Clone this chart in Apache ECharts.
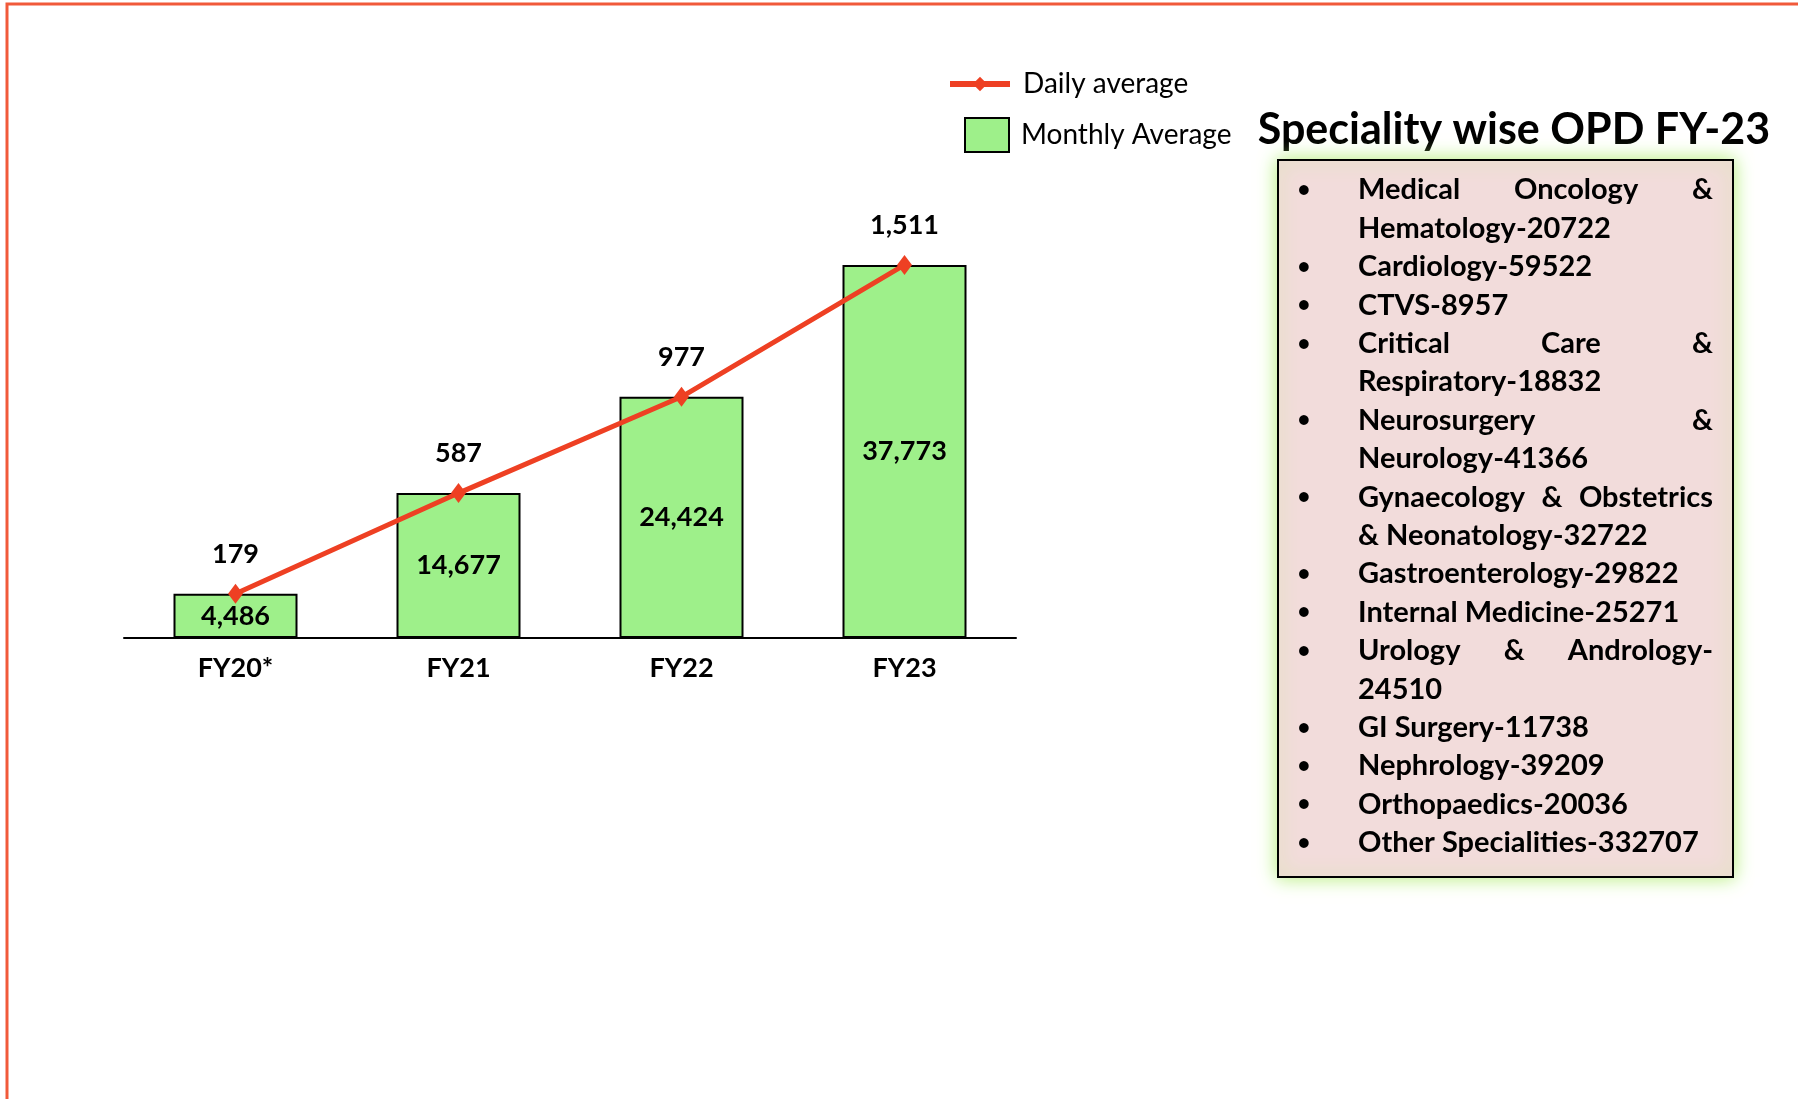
<!DOCTYPE html>
<html>
<head>
<meta charset="utf-8">
<script src="https://cdn.jsdelivr.net/npm/echarts@6/dist/echarts.min.js"></script>
<style>
  html, body { margin: 0; padding: 0; background: #fff; }
  #chart { width: 1798px; height: 1099px; }
</style>
</head>
<body>
<div id="chart"></div>
<script>
// data
const categories = ['FY20*', 'FY21', 'FY22', 'FY23'];
const monthlyAverage = [4486, 14677, 24424, 37773];
const dailyAverage = [179, 587, 977, 1511];

const specialityNames = [
    'Medical Oncology & Hematology',
    'Cardiology',
    'CTVS',
    'Critical Care & Respiratory',
    'Neurosurgery & Neurology',
    'Gynaecology & Obstetrics & Neonatology',
    'Gastroenterology',
    'Internal Medicine',
    'Urology & Andrology',
    'GI Surgery',
    'Nephrology',
    'Orthopaedics',
    'Other Specialities'
];
const specialityCounts = [20722, 59522, 8957, 18832, 41366, 32722, 29822, 25271, 24510, 11738, 39209, 20036, 332707];

const fmt = v => v.toLocaleString('en-US');

// text box layout
const boxFont = 'bold 29px Lato';
const textLeft = 1358, textWidth = 355, bulletX = 1304;
const hyphenWidth = 300; // a line broken after a hyphen must be shorter than this
const firstLineY = 190, lineStep = 38.4;

let ctx = document.createElement('canvas').getContext('2d');
ctx.font = boxFont;
const measure = s => ctx.measureText(s).width;

// wrap one entry into lines (break at spaces, or after a hyphen if needed)
function wrapEntry(text) {
    let words = text.split(' ');
    let lines = [];
    let cur = [];
    for (let i = 0; i < words.length; i++) {
        let w = words[i];
        let trial = cur.concat([w]).join(' ');
        if (measure(trial) <= textWidth || cur.length == 0) {
            cur.push(w);
            continue;
        }
        let hy = w.indexOf('-');
        if (hy > 0) {
            let head = w.slice(0, hy + 1);
            if (measure(cur.concat([head]).join(' ')) <= hyphenWidth) {
                cur.push(head);
                lines.push(cur);
                cur = [w.slice(hy + 1)];
                continue;
            }
        }
        lines.push(cur);
        cur = [w];
    }
    if (cur.length) lines.push(cur);
    return lines;
}

let boxElements = [];
let lineNo = 0;
for (let k = 0; k < specialityNames.length; k++) {
    let lines = wrapEntry(specialityNames[k] + '-' + specialityCounts[k]);
    for (let j = 0; j < lines.length; j++) {
        let y = firstLineY + lineNo * lineStep;
        if (j == 0) {
            boxElements.push({
                type: 'text', x: bulletX, y: y, z: 10,
                style: { text: '•', font: 'bold 22px Lato', fill: '#000', align: 'center', verticalAlign: 'middle' }
            });
        }
        let words = lines[j];
        let justify = j < lines.length - 1 && words.length > 1;
        if (!justify) {
            boxElements.push({
                type: 'text', x: textLeft, y: y, z: 10,
                style: { text: words.join(' '), font: boxFont, fill: '#000', align: 'left', verticalAlign: 'middle' }
            });
        } else {
            let widths = words.map(measure);
            let gap = (textWidth - widths.reduce((a, b) => a + b, 0)) / (words.length - 1);
            let x = textLeft;
            for (let m = 0; m < words.length; m++) {
                boxElements.push({
                    type: 'text', x: x, y: y, z: 10,
                    style: { text: words[m], font: boxFont, fill: '#000', align: 'left', verticalAlign: 'middle' }
                });
                x += widths[m] + gap;
            }
        }
        lineNo++;
    }
}

let myChart = echarts.init(document.getElementById('chart'));

myChart.setOption({
    backgroundColor: '#fff',
    animation: false,
    textStyle: { fontFamily: 'Lato' },
    legend: [{
        data: ['Daily average'],
        left: 947,
        top: 69,
        padding: 0,
        itemWidth: 60,
        itemHeight: 18,
        lineStyle: { width: 6 },
        textStyle: { fontSize: 28, color: '#000', lineHeight: 30, padding: [0, 0, 0, 8] }
    }, {
        data: ['Monthly Average'],
        left: 964,
        top: 116,
        padding: 0,
        icon: 'rect',
        itemWidth: 44,
        itemHeight: 34,
        textStyle: { fontSize: 28, color: '#000', lineHeight: 34, padding: [4, 0, 0, 7] }
    }],
    grid: { left: 124, right: 782, top: 243, bottom: 461 },
    xAxis: {
        type: 'category',
        data: categories,
        boundaryGap: true,
        axisLine: { lineStyle: { color: '#000', width: 2 } },
        axisTick: { show: false },
        axisLabel: { color: '#000', fontSize: 27, fontWeight: 'bold', margin: 17 }
    },
    yAxis: [{
        type: 'value', min: 0, max: 40000, show: false, splitLine: { show: false }
    }, {
        type: 'value', min: 0, max: 1600, show: false, splitLine: { show: false }
    }],
    series: [{
        name: 'Monthly Average',
        type: 'bar',
        data: monthlyAverage,
        barWidth: 124,
        itemStyle: { color: '#9ef08a', borderColor: '#000', borderWidth: 2 },
        label: {
            show: true,
            position: 'inside',
            color: '#000',
            fontSize: 27,
            fontWeight: 'bold',
            formatter: p => fmt(p.value)
        }
    }, {
        name: 'Daily average',
        type: 'line',
        yAxisIndex: 1,
        data: dailyAverage,
        z: 5,
        symbol: 'diamond',
        symbolSize: [15, 20],
        lineStyle: { color: '#ee4023', width: 5 },
        itemStyle: { color: '#ee4023' },
        label: {
            show: true,
            position: 'top',
            distance: 16,
            color: '#000',
            fontSize: 27,
            fontWeight: 'bold',
            formatter: p => fmt(p.value)
        }
    }],
    graphic: [{
        // slide frame
        type: 'polyline',
        shape: { points: [[7, 1099], [7, 4], [1798, 4]] },
        style: { stroke: '#f15a3a', lineWidth: 3, fill: null }
    }, {
        type: 'text',
        x: 1514, y: 130,
        style: {
            text: 'Speciality wise OPD FY-23',
            font: 'bold 43px Lato',
            fill: '#000',
            align: 'center',
            verticalAlign: 'middle'
        }
    }, {
        type: 'rect',
        shape: { x: 1278, y: 160, width: 455, height: 717 },
        z: 5,
        style: {
            fill: '#f2dcdb',
            stroke: '#000',
            lineWidth: 2,
            shadowBlur: 18,
            shadowColor: '#b5ee78'
        }
    }].concat(boxElements)
});
</script>
</body>
</html>
